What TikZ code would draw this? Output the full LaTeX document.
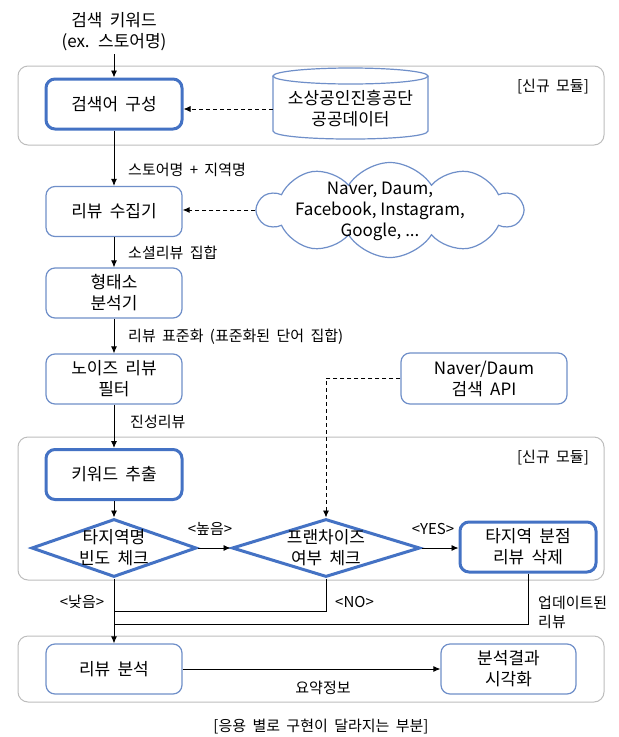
\documentclass[tikz,border=0pt]{standalone}
\usepackage{fontspec}
\setmainfont[WordSpace=1.9]{Noto Sans CJK KR}
\newfontfamily\latinfont{Noto Sans CJK KR}
\usetikzlibrary{arrows.meta,shapes.geometric,shapes.symbols}
\definecolor{bblue}{HTML}{4472C4}
\definecolor{tblue}{HTML}{6F8FC9}
\definecolor{ggray}{HTML}{BDBDBD}
\begin{document}
\begin{tikzpicture}[x=1pt,y=-1pt,
  mainfont/.style={font=\fontsize{17}{21}\selectfont},
  lblfont/.style={font=\fontsize{15}{19}\selectfont},
  grp/.style={draw=ggray,line width=1pt,rounded corners=10pt,inner sep=0pt},
  thickbox/.style={draw=bblue,line width=3pt,rounded corners=9pt,align=center,mainfont,inner sep=0pt,minimum width=136pt,minimum height=50pt},
  thinbox/.style={draw=tblue,line width=1.2pt,rounded corners=9pt,align=center,mainfont,inner sep=0pt,minimum width=136pt,minimum height=50pt},
  dia/.style={diamond,draw=bblue,line width=3pt,inner sep=0pt},
  arr/.style={-{Latex[length=7pt,width=6pt]},line width=0.9pt},
  darr/.style={arr,dash pattern=on 4pt off 3pt},
  plain/.style={line width=0.9pt},
  lbl/.style={lblfont,inner sep=0pt}
]
\useasboundingbox[fill=white] (0,0) rectangle (619,737);

% group frames
\node[grp,minimum width=586pt,minimum height=79pt] (g1) at (311,105.5) {};
\node[grp,minimum width=586pt,minimum height=143pt] (g2) at (311,508.5) {};
\node[grp,minimum width=586pt,minimum height=66pt] (g3) at (311,669) {};
\node[lbl] (m1) at (553,87) {[신규 모듈]};
\node[lbl] (m2) at (553,458) {[신규 모듈]};

% top input
\node[mainfont,align=center,inner sep=3pt] (kw) at (114,32) {검색 키워드\\(ex. 스토어명)};

% main column
\node[thickbox] (b1) at (114,104) {검색어 구성};
\node[thinbox] (b2) at (114,211.5) {리뷰 수집기};
\node[thinbox] (b3) at (114,293) {형태소\\분석기};
\node[thinbox] (b4) at (114,379) {노이즈 리뷰\\필터};
\node[thickbox] (b5) at (114,474.5) {키워드 추출};
\node[dia,minimum width=165pt,minimum height=58pt] (d1) at (114,548) {};
\node[mainfont,align=center,inner sep=0pt] (d1t) at (d1.center) {타지역명\\빈도 체크};
\node[dia,minimum width=188pt,minimum height=58pt] (d2) at (326,548) {};
\node[mainfont,align=center,inner sep=0pt] (d2t) at (d2.center) {프랜차이즈\\여부 체크};
\node[thickbox] (del) at (528,547) {타지역 분점\\리뷰 삭제};
\node[thinbox] (rev) at (114,669) {리뷰 분석};
\node[thinbox,minimum width=135pt] (vis) at (508.5,669) {분석결과\\시각화};
\node[thinbox,minimum width=166pt,minimum height=51pt] (api) at (484,378.5) {Naver/Daum\\검색 API};

% cylinder
\draw[tblue,line width=1.2pt] (273,76) -- (273,131) .. controls (273,141.7) and (428,141.7) .. (428,131) -- (428,76);
\draw[tblue,line width=1.2pt] (350.5,76) ellipse [x radius=77.5pt, y radius=8pt];
\node[mainfont,align=center,inner sep=0pt,minimum width=155pt,minimum height=50pt] (pub) at (350.5,109) {소상공인진흥공단\\공공데이터};

% cloud
\node[cloud,cloud puffs=10,cloud puff arc=115,aspect=2.8,draw=tblue,line width=1.2pt,minimum width=264pt,minimum height=95pt,inner sep=0pt] (cl) at (390,210) {};
\node[mainfont,align=center,inner sep=0pt] (clt) at (380,211) {\latinfont Naver, Daum,\\\latinfont Facebook, Instagram,\\\latinfont Google, ...};

% connectors
\draw[arr] (kw.south) -- (b1.north);
\draw[darr] (pub.west) -- (b1.east |- pub.west);
\draw[arr] (b1.south) -- (b2.north);
\draw[darr] (cl.west) -- (b2.east |- cl.west);
\draw[arr] (b2.south) -- (b3.north);
\draw[arr] (b3.south) -- (b4.north);
\draw[arr] (b4.south) -- (b5.north);
\draw[arr] (b5.south) -- (d1.north);
\draw[arr] (d1.east) -- (d2.west);
\draw[arr] (d2.east) -- (del.west |- d2.east);
\draw[darr] (api.west) -| (d2.north);
\draw[arr] (d1.south) -- (rev.north);
\coordinate (j1) at (114,611);
\coordinate (j2) at (114,624);
\draw[plain] (d2.south) |- (j1);
\draw[plain] (del.south) |- (j2);
\draw[arr] (rev.east) -- (vis.west);

% labels
\node[lbl,anchor=west] (l1) at (128,170) {스토어명 + 지역명};
\node[lbl,anchor=west] (l2) at (128,253) {소셜리뷰 집합};
\node[lbl,anchor=west] (l3) at (128,337) {리뷰 표준화 (표준화된 단어 집합)};
\node[lbl,anchor=west] (l4) at (130,422) {진성리뷰};
\node[lbl] (l5) at (210,529) {<높음>};
\node[lbl] (l6) at (433,529) {<YES>};
\node[lbl] (l7) at (82,602) {<낮음>};
\node[lbl,anchor=west] (l8) at (335,602) {<NO>};
\node[lbl,anchor=west,align=left] (l9) at (538,612.5) {업데이트된\\리뷰};
\node[lbl] (l10) at (323,688) {요약정보};
\node[lbl] (l11) at (321,727) {[응용 별로 구현이 달라지는 부분]};
\end{tikzpicture}
\end{document}
